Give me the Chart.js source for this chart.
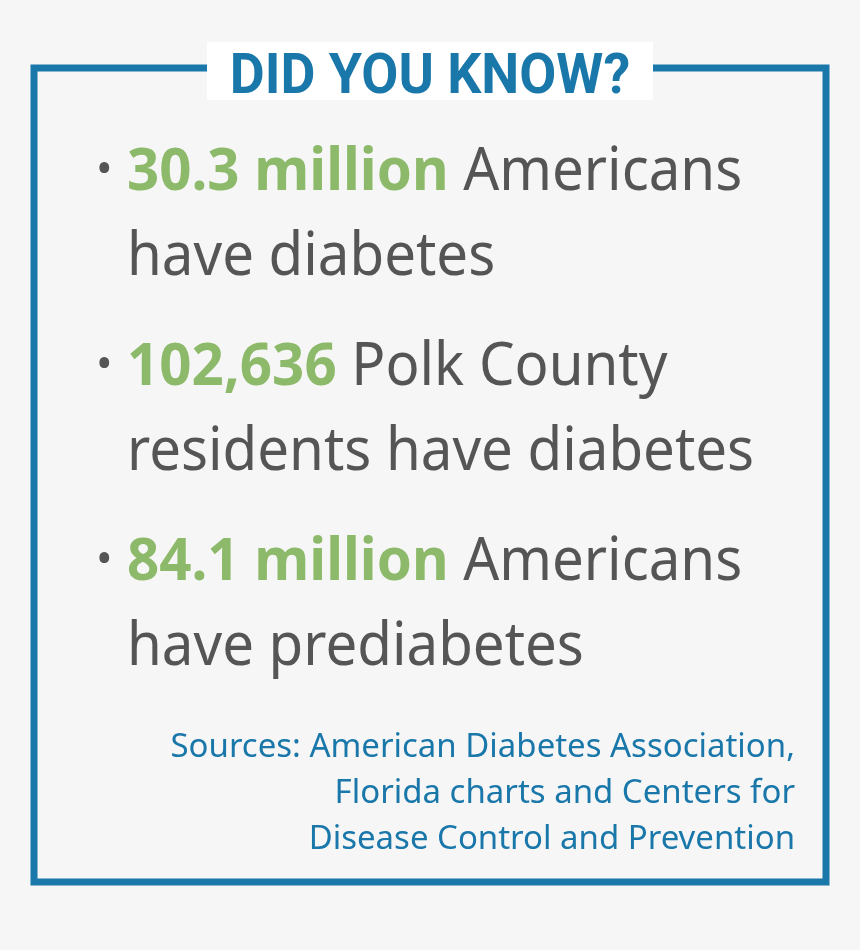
<!DOCTYPE html>
<html>
<head>
<meta charset="utf-8">
<script src="https://cdn.jsdelivr.net/npm/chart.js@4/dist/chart.umd.min.js"></script>
<style>
  html, body { margin: 0; padding: 0; background: #f6f6f6; }
  canvas { display: block; }
</style>
</head>
<body>
<canvas id="infographic" width="860" height="950"></canvas>
<script>
var title = 'DID YOU KNOW?';
var highlights = ['30.3 million', '102,636', '84.1 million'];
var firstLines = [' Americans', ' Polk County', ' Americans'];
var secondLines = ['have diabetes', 'residents have diabetes', 'have prediabetes'];
var sources = ['Sources: American Diabetes Association,', 'Florida charts and Centers for', 'Disease Control and Prevention'];

var BLUE = '#1a77aa', GREEN = '#8dba6a', GRAY = '#555555';

var textPlugin = {
  id: 'factText',
  afterDraw: function(chart) {
    var ctx = chart.ctx;
    ctx.save();
    ctx.fillStyle = '#f6f6f6';
    ctx.fillRect(0, 0, 860, 950);

    // frame
    ctx.strokeStyle = BLUE;
    ctx.lineWidth = 7;
    ctx.strokeRect(34, 68, 792, 814);

    // title
    ctx.fillStyle = '#ffffff';
    ctx.fillRect(207, 42, 446, 58);
    ctx.fillStyle = BLUE;
    ctx.font = 'bold 56px "Roboto"';
    ctx.textAlign = 'center';
    ctx.textBaseline = 'alphabetic';
    ctx.save();
    ctx.translate(430, 93);
    ctx.scale(0.96, 1);
    ctx.fillText(title, 0, 0);
    ctx.restore();

    // bullets
    ctx.textAlign = 'left';
    var tops = [190, 385, 580];
    highlights.forEach(function(h, i) {
      var y = tops[i];
      ctx.fillStyle = GRAY;
      ctx.font = '44px "Noto Sans"';
      ctx.fillText('•', 96, y - 6);
      ctx.save();
      ctx.translate(127, y);
      ctx.scale(0.94, 1);
      ctx.font = 'bold 60px "Noto Sans"';
      ctx.fillStyle = GREEN;
      ctx.fillText(h, 0, 0);
      var w = ctx.measureText(h).width;
      ctx.font = '60px "Noto Sans"';
      ctx.fillStyle = GRAY;
      ctx.fillText(firstLines[i], w, 0);
      ctx.fillText(secondLines[i], 0, 85);
      ctx.restore();
    });

    // sources
    ctx.fillStyle = BLUE;
    ctx.font = '32px "Noto Sans"';
    ctx.textAlign = 'right';
    sources.forEach(function(s, i) {
      ctx.save();
      ctx.translate(795, 757 + i * 46);
      ctx.scale(1.03, 1);
      ctx.fillText(s, 0, 0);
      ctx.restore();
    });
    ctx.restore();
  }
};

new Chart(document.getElementById('infographic').getContext('2d'), {
  type: 'bar',
  data: { labels: [], datasets: [] },
  options: {
    responsive: false,
    animation: false,
    plugins: { legend: { display: false }, tooltip: { enabled: false } },
    scales: { x: { display: false }, y: { display: false } }
  },
  plugins: [textPlugin]
});
</script>
</body>
</html>
